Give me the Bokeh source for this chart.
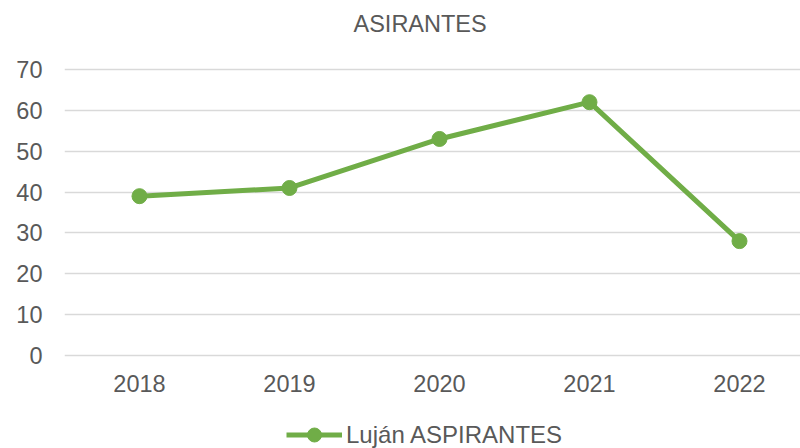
from bokeh.plotting import figure
from bokeh.models import Range1d, FixedTicker, Legend, LegendItem, Label, ColumnDataSource
from bokeh.embed import file_html
from bokeh.resources import INLINE

years = ["2018", "2019", "2020", "2021", "2022"]
aspirantes = [39, 41, 53, 62, 28]
y_ticks = [0, 10, 20, 30, 40, 50, 60, 70]
title_text = "ASIRANTES"
series_name = "Luján ASPIRANTES"

GREEN = "#70AD47"
TEXT = "#595959"
FONT = "Liberation Sans"

idx = list(range(len(years)))
src = ColumnDataSource(dict(x=idx, y=aspirantes, year=years))

# frame spans the full height; value axis range padded so 0..70 sits where the reference has it
p = figure(width=800, height=448, output_backend="svg", toolbar_location=None,
           x_range=Range1d(-0.5, 4.4067), y_range=Range1d(-22.76, 86.89),
           min_border_left=64, min_border_right=0, min_border_top=0, min_border_bottom=0)
p.outline_line_color = None
p.background_fill_color = "white"
p.border_fill_color = "white"

ln = p.line("x", "y", source=src, line_color=GREEN, line_width=5)
sc = p.scatter("x", "y", source=src, size=15, fill_color=GREEN, line_color=GREEN)

# axes
p.xaxis.ticker = FixedTicker(ticks=idx)
p.xaxis.major_label_overrides = {i: y for i, y in zip(idx, years)}
p.xaxis.fixed_location = 0
p.yaxis.ticker = FixedTicker(ticks=y_ticks)
for ax in (p.xaxis[0], p.yaxis[0]):
    ax.axis_line_color = None
    ax.major_tick_line_color = None
    ax.minor_tick_line_color = None
    ax.major_label_text_color = TEXT
    ax.major_label_text_font = FONT
    ax.major_label_text_font_size = "23.5px"
p.xaxis.major_label_standoff = 13
p.yaxis.major_label_standoff = 16

p.xgrid.grid_line_color = None
p.ygrid.grid_line_color = "#D9D9D9"
p.ygrid.grid_line_width = 1.3
p.ygrid.ticker = FixedTicker(ticks=y_ticks)

# title
p.add_layout(Label(x=289, y=425, x_units="screen", y_units="screen", text=title_text,
                   text_font=FONT, text_font_size="23.5px", text_color=TEXT,
                   text_align="left", text_baseline="middle"))

legend = Legend(items=[LegendItem(label=series_name, renderers=[ln, sc])],
                location=(222, -4), orientation="horizontal",
                glyph_width=56, glyph_height=35, label_standoff=4,
                padding=0, margin=0, spacing=0,
                border_line_color=None, background_fill_alpha=0,
                label_text_font=FONT, label_text_font_size="24px",
                label_text_color=TEXT)
p.add_layout(legend, "center")

open("out.html", "w").write(file_html(p, INLINE))
